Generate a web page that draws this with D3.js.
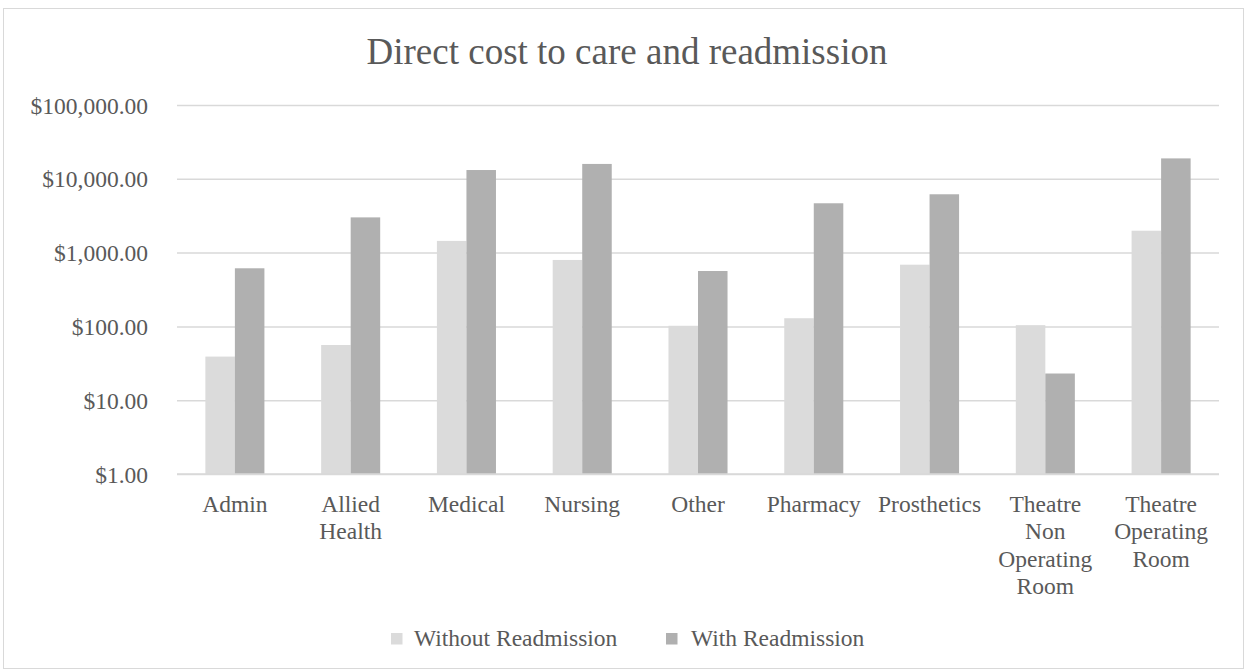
<!DOCTYPE html>
<html>
<head>
<meta charset="utf-8">
<script src="https://cdn.jsdelivr.net/npm/d3@7"></script>
<style>
  html, body { margin: 0; padding: 0; background: #fff; }
  svg { display: block; }
  text { font-family: "Liberation Serif", "Times New Roman", serif; fill: #595959; }
</style>
</head>
<body>
<svg id="chart" width="1247" height="671"></svg>
<script>
// Cost categories (x axis); "\n" marks a manual line break in the label
const categories = [
  "Admin", "Allied\nHealth", "Medical", "Nursing", "Other",
  "Pharmacy", "Prosthetics", "Theatre\nNon\nOperating\nRoom", "Theatre\nOperating\nRoom"
];
const seriesNames = ["Without Readmission", "With Readmission"];
const withoutReadmission = [39, 56, 1440, 795, 102, 129, 686, 104, 1980];
const withReadmission    = [613, 3000, 13150, 15900, 563, 4660, 6170, 23, 18900];
const tickValues = [1, 10, 100, 1000, 10000, 100000];

const seriesColors = ["#dbdbdb", "#b0b0b0"];
const gridColor = "#d9d9d9";
const labelSize = "23.5px";

const svg = d3.select("#chart");

// outer chart frame
svg.append("rect")
  .attr("x", 3.5).attr("y", 8.5)
  .attr("width", 1240).attr("height", 660)
  .attr("fill", "none").attr("stroke", gridColor).attr("stroke-width", 1);

const plot = { left: 177, right: 1219, top: 105, bottom: 474 };

const x = d3.scaleBand()
  .domain(categories)
  .range([plot.left, plot.right])
  .paddingInner(0.49)
  .paddingOuter(0.245);

const xSeries = d3.scaleBand()
  .domain(seriesNames)
  .range([0, x.bandwidth()]);

const y = d3.scaleLog()
  .domain([1, 100000])
  .range([plot.bottom, plot.top]);

const money = d3.format("$,.2f");

// title
svg.append("text")
  .attr("x", 627).attr("y", 64)
  .attr("text-anchor", "middle")
  .style("font-size", "37px")
  .text("Direct cost to care and readmission");

// horizontal gridlines + y labels
const yAxis = d3.axisLeft(y)
  .tickValues(tickValues)
  .tickSize(-(plot.right - plot.left))
  .tickPadding(29)
  .tickFormat(money);

const gy = svg.append("g")
  .attr("transform", `translate(${plot.left},0)`)
  .call(yAxis);
gy.select(".domain").remove();
gy.selectAll(".tick line").attr("stroke", gridColor).attr("stroke-width", 1.5);
gy.selectAll(".tick text")
  .style("font-size", labelSize)
  .attr("fill", "#595959")
  .attr("dy", "0.34em");

// bars
const rows = categories.map((c, i) => ({
  category: c,
  values: [withoutReadmission[i], withReadmission[i]]
}));

const groups = svg.append("g").selectAll("g")
  .data(rows).join("g")
  .attr("transform", d => `translate(${x(d.category)},0)`);

groups.selectAll("rect")
  .data(d => d.values.map((v, k) => ({ name: seriesNames[k], value: v, k })))
  .join("rect")
  .attr("x", d => xSeries(d.name))
  .attr("width", xSeries.bandwidth())
  .attr("y", d => y(d.value))
  .attr("height", d => y(1) - y(d.value))
  .attr("fill", d => seriesColors[d.k]);

// category axis line
svg.append("line")
  .attr("x1", plot.left).attr("x2", plot.right)
  .attr("y1", plot.bottom).attr("y2", plot.bottom)
  .attr("stroke", gridColor).attr("stroke-width", 1.5);

// category labels (multi-line)
const xl = svg.append("g").selectAll("text")
  .data(categories).join("text")
  .attr("text-anchor", "middle")
  .attr("x", d => x(d) + x.bandwidth() / 2)
  .attr("y", 512)
  .style("font-size", labelSize);
xl.each(function(d) {
  const t = d3.select(this);
  d.split("\n").forEach((line, i) => {
    t.append("tspan")
      .attr("x", x(d) + x.bandwidth() / 2)
      .attr("dy", i === 0 ? 0 : 27.3)
      .text(line);
  });
});

// legend
const legendItems = [
  { name: seriesNames[0], color: seriesColors[0], sx: 391, tx: 414 },
  { name: seriesNames[1], color: seriesColors[1], sx: 666, tx: 691 }
];
const lg = svg.append("g").selectAll("g").data(legendItems).join("g");
lg.append("rect")
  .attr("x", d => d.sx).attr("y", 633)
  .attr("width", 11.5).attr("height", 11.5)
  .attr("fill", d => d.color);
lg.append("text")
  .attr("x", d => d.tx).attr("y", 646)
  .style("font-size", labelSize)
  .text(d => d.name);
</script>
</body>
</html>
